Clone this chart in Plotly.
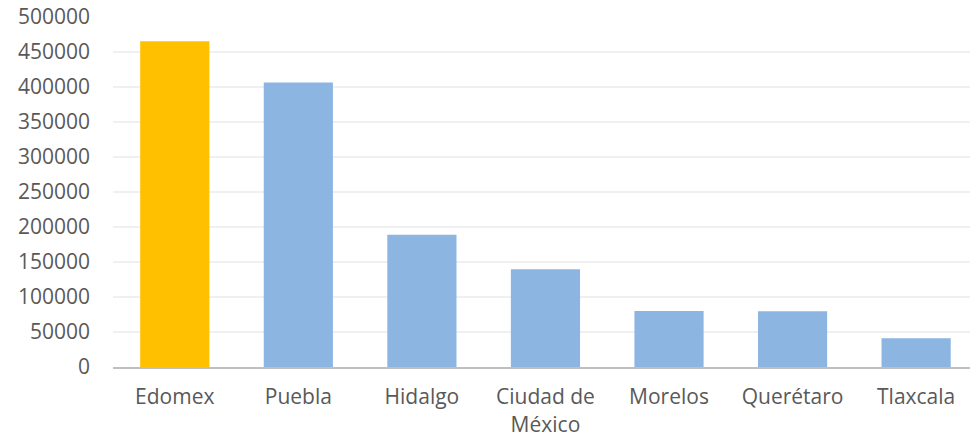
import plotly.graph_objects as go

categories = ["Edomex", "Puebla", "Hidalgo", "Ciudad de<br>México", "Morelos", "Querétaro", "Tlaxcala"]
values = [465300, 406300, 189100, 139600, 80000, 79600, 41000]
colors = ["#FFC000", "#8CB6E1", "#8CB6E1", "#8CB6E1", "#8CB6E1", "#8CB6E1", "#8CB6E1"]
y_ticks = [0, 50000, 100000, 150000, 200000, 250000, 300000, 350000, 400000, 450000, 500000]

fig = go.Figure(go.Bar(
    x=categories, y=values,
    marker=dict(color=colors, line=dict(width=0)),
))

font_family = "Open Sans"
fig.update_layout(
    width=970, height=442,
    margin=dict(l=113, r=0, t=17, b=75),
    paper_bgcolor="white", plot_bgcolor="white",
    bargap=0.44,
    showlegend=False,
    font=dict(family=font_family, size=21, color="#595959"),
)
fig.update_xaxes(
    range=[-0.5, 6.436], automargin=False,
    showline=True, linecolor="#BFBFBF", linewidth=2,
    showgrid=False, ticks="", ticklabelstandoff=10,
    tickfont=dict(size=21, color="#595959"),
)
fig.update_yaxes(
    range=[0, 500000], tickvals=y_ticks, ticktext=[str(v) for v in y_ticks],
    automargin=False,
    showgrid=True, gridcolor="#F0F0F0", gridwidth=1.5,
    zeroline=False, showline=False, ticks="",
    ticklabelstandoff=22, tickfont=dict(size=21, color="#595959"),
)

fig.write_html(
    "out.html",
    config={"displayModeBar": False},
    post_script="document.body.style.margin='0';document.body.style.overflow='hidden';",
)
